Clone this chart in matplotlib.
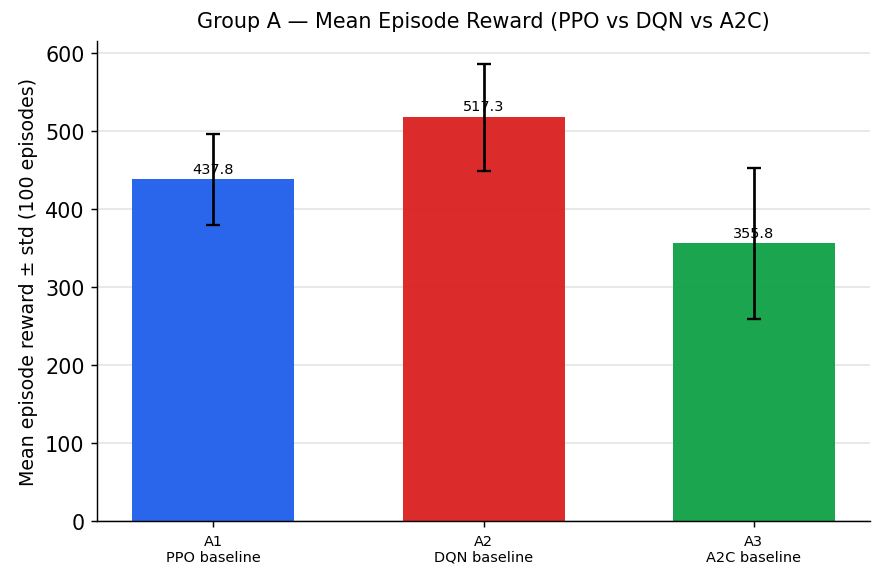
import matplotlib
matplotlib.use("Agg")
import matplotlib.pyplot as plt
import numpy as np

labels = ["A1\nPPO baseline", "A2\nDQN baseline", "A3\nA2C baseline"]
means = [437.8, 517.3, 355.8]
stds = [58.2, 68.5, 96.3]
colors = ["#2563eb", "#dc2626", "#16a34a"]

fig, ax = plt.subplots(figsize=(6.8, 4.4923), dpi=130)
x = np.arange(len(labels))
bars = ax.bar(x, means, width=0.6, color=colors, alpha=0.98, yerr=stds, capsize=4,
              error_kw={"elinewidth": 1.5, "capthick": 1.3, "ecolor": "black"},
              zorder=2)
for xi, m in zip(x, means):
    ax.text(xi, m + 5, f"{m:.1f}", ha="center", va="bottom", fontsize=8, zorder=4)

ax.set_xticks(x)
ax.set_xticklabels(labels, fontsize=8)
ax.tick_params(axis="y", labelsize=11.5)
ax.set_ylabel("Mean episode reward \u00b1 std (100 episodes)", fontsize=10.5)
ax.set_title("Group A \u2014 Mean Episode Reward (PPO vs DQN vs A2C)", fontsize=11.5, pad=8)
ax.set_axisbelow(True)
ax.yaxis.grid(True, color="#d8d8d8", alpha=0.7, linewidth=0.9)
for s in ["top", "right"]:
    ax.spines[s].set_visible(False)

fig.subplots_adjust(left=0.110, right=0.984, top=0.928, bottom=0.106)
fig.savefig("out.png", dpi=130)
